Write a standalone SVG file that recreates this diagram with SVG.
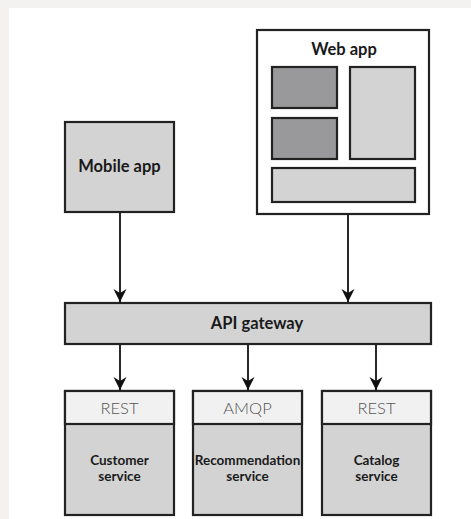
<svg xmlns="http://www.w3.org/2000/svg" width="471" height="519" viewBox="0 0 471 519">
<defs>
<marker id="arr" markerUnits="userSpaceOnUse" markerWidth="16" markerHeight="16" viewBox="-14 -8 16 16" refX="0" refY="0" orient="auto">
<path d="M0,0 L-13,-6.5 L-9,0 L-13,6.5 Z" fill="#111"/>
</marker>
<style>
.box{fill:#d3d3d3;stroke:#222;stroke-width:2.2}
.dark{fill:#99999b;stroke:#222;stroke-width:2.2}
.hdr{fill:#f1f1f1;stroke:#222;stroke-width:2.2}
.wb{fill:#fff;stroke:#222;stroke-width:2.2}
.lbl{font-family:Lato,"Liberation Sans",sans-serif;font-weight:bold;fill:#1a1a1a;text-anchor:middle}
.proto{font-family:Lato,"Liberation Sans",sans-serif;font-weight:300;fill:#555;text-anchor:middle;font-size:16.5px}
.conn{stroke:#111;stroke-width:1.8;fill:none;marker-end:url(#arr)}
</style>
</defs>
<rect x="0" y="0" width="471" height="519" fill="#f3f2f0"/>
<rect x="9" y="8" width="462" height="511" fill="#fff"/>
<g id="mobile-app">
<rect class="box" x="65" y="122" width="109" height="90"/>
<text class="lbl" x="119.5" y="172" font-size="16.5">Mobile app</text>
</g>
<g id="web-app">
<rect class="wb" x="257" y="30" width="172" height="184"/>
<text class="lbl" x="344" y="55" font-size="16.5">Web app</text>
<rect class="dark" x="272" y="67" width="65" height="41"/>
<rect class="dark" x="272" y="118" width="65" height="41"/>
<rect class="box" x="350" y="67" width="65" height="92"/>
<rect class="box" x="272" y="168" width="143" height="34"/>
</g>
<g id="api-gateway">
<rect class="box" x="65" y="303" width="366" height="41"/>
<text class="lbl" x="257" y="329" font-size="16.5">API gateway</text>
</g>
<g id="customer-service">
<rect class="box" x="65" y="391" width="109" height="124"/>
<rect class="hdr" x="65" y="391" width="109" height="33"/>
<text class="proto" x="119.5" y="414">REST</text>
<text class="lbl" x="119.5" y="465" font-size="13.5">Customer</text>
<text class="lbl" x="119.5" y="481" font-size="13.5">service</text>
</g>
<g id="recommendation-service">
<rect class="box" x="193" y="391" width="109" height="124"/>
<rect class="hdr" x="193" y="391" width="109" height="33"/>
<text class="proto" x="247.5" y="414">AMQP</text>
<text class="lbl" x="247.5" y="465" font-size="13.5">Recommendation</text>
<text class="lbl" x="247.5" y="481" font-size="13.5">service</text>
</g>
<g id="catalog-service">
<rect class="box" x="322" y="391" width="109" height="124"/>
<rect class="hdr" x="322" y="391" width="109" height="33"/>
<text class="proto" x="376.5" y="414">REST</text>
<text class="lbl" x="376.5" y="465" font-size="13.5">Catalog</text>
<text class="lbl" x="376.5" y="481" font-size="13.5">service</text>
</g>
<g id="connectors">
<line class="conn" x1="120" y1="213" x2="120" y2="302"/>
<line class="conn" x1="348" y1="215" x2="348" y2="302"/>
<line class="conn" x1="120" y1="345" x2="120" y2="390"/>
<line class="conn" x1="248" y1="345" x2="248" y2="390"/>
<line class="conn" x1="376" y1="345" x2="376" y2="390"/>
</g>
</svg>
